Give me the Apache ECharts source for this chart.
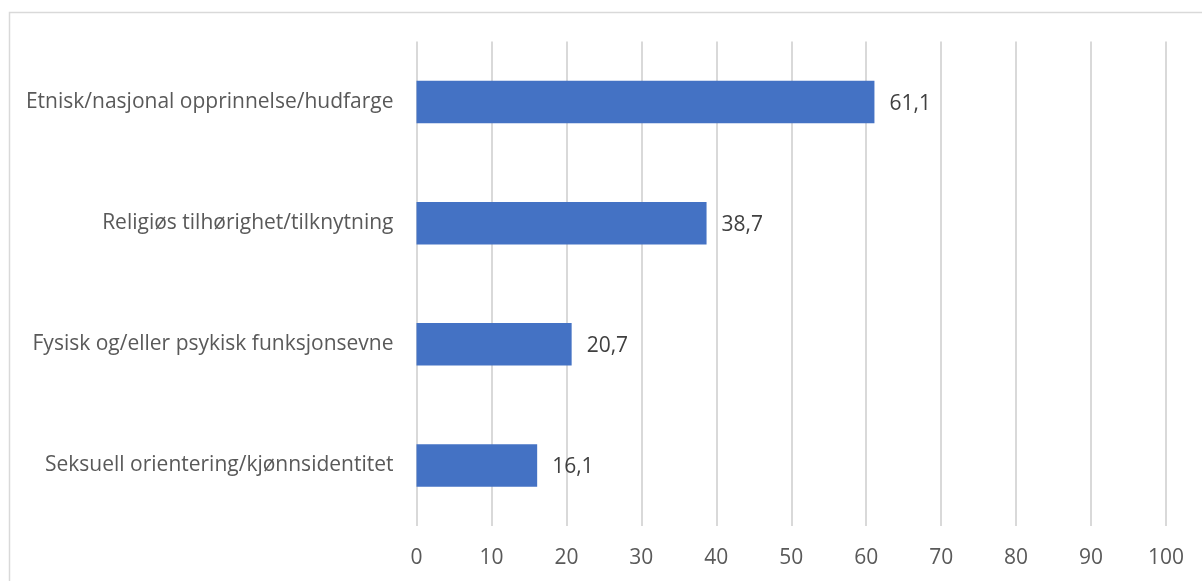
<!DOCTYPE html>
<html>
<head>
<meta charset="utf-8">
<script src="https://cdn.jsdelivr.net/npm/echarts@6/dist/echarts.min.js"></script>
<style>
  html, body { margin: 0; padding: 0; background: #fff; }
  #chart { width: 1202px; height: 581px; }
</style>
</head>
<body>
<div id="chart"></div>
<script>
// Categories listed bottom-to-top (ECharts category axis on y grows upward)
const categories = [
  'Seksuell orientering/kjønnsidentitet',
  'Fysisk og/eller psykisk funksjonsevne',
  'Religiøs tilhørighet/tilknytning',
  'Etnisk/nasjonal opprinnelse/hudfarge'
];
const values = [16.1, 20.7, 38.7, 61.1];
const xMin = 0, xMax = 100, xStep = 10;

const fontFamily = '"Open Sans", "Noto Sans", sans-serif';
const chart = echarts.init(document.getElementById('chart'), null, { renderer: 'canvas' });

chart.setOption({
  animation: false,
  backgroundColor: '#ffffff',
  graphic: [{
    type: 'rect',
    shape: { x: 9.5, y: 12.5, width: 1300, height: 700 },
    style: { fill: 'none', stroke: '#d9d9d9', lineWidth: 1.5 },
    silent: true
  }],
  grid: { left: 416.5, right: 36, top: 41.5, bottom: 55, containLabel: false },
  xAxis: {
    type: 'value',
    min: xMin, max: xMax, interval: xStep,
    axisLine: { show: false },
    axisTick: { show: false },
    axisLabel: {
      color: '#595959', fontSize: 21, fontFamily: fontFamily, margin: 22,
      formatter: v => String(v)
    },
    splitLine: { show: true, lineStyle: { color: '#d9d9d9', width: 2 } }
  },
  yAxis: {
    type: 'category',
    data: categories,
    axisLine: { show: false },
    axisTick: { show: false },
    axisLabel: { color: '#595959', fontSize: 21, fontFamily: fontFamily, margin: 23 }
  },
  series: [{
    type: 'bar',
    data: values,
    barWidth: '35%',
    itemStyle: { color: '#4472c4' },
    label: {
      show: true, position: 'right', distance: 15, offset: [0, 2],
      color: '#404040', fontSize: 21, fontFamily: fontFamily,
      formatter: p => p.value.toFixed(1).replace('.', ',')
    }
  }]
});
</script>
</body>
</html>
